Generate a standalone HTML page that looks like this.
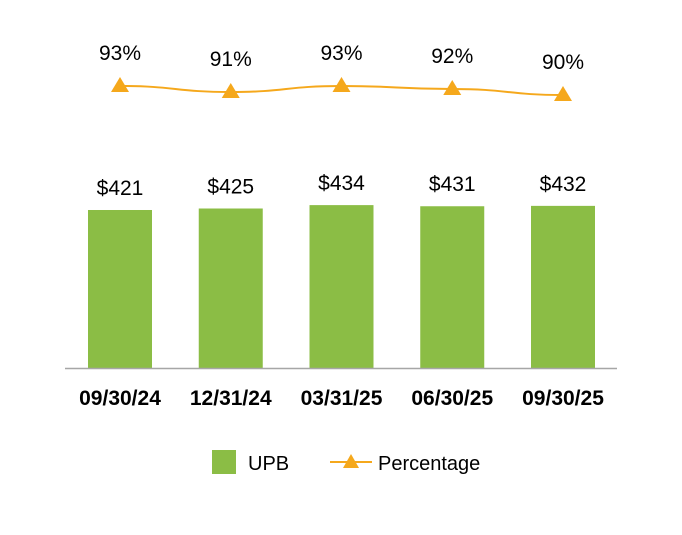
<!DOCTYPE html>
<html><head><meta charset="utf-8"><style>
body{margin:0;background:#fff}
svg text{font-family:"Liberation Sans Narrow","Liberation Sans",sans-serif}
</style></head><body>
<svg width="682" height="530" xmlns="http://www.w3.org/2000/svg">
<g id="bars"></g><g id="line"></g><g id="labels"></g>
<line x1="65" y1="368.5" x2="617" y2="368.5" stroke="#a6a6a6" stroke-width="1.5"/>
<g>
<rect x="212" y="450" width="24" height="24" fill="#8bbd45"/>
<text x="248" y="470" font-size="20" fill="#000">UPB</text>
<line x1="330" y1="462" x2="372" y2="462" stroke="#f5a81c" stroke-width="2"/>
<polygon points="351,454 359,468 343,468" fill="#f5a81c"/>
<text x="378" y="470" font-size="20" fill="#000">Percentage</text>
</g>
</svg>
<script>
const categories=["09/30/24","12/31/24","03/31/25","06/30/25","09/30/25"];
const upb=[421,425,434,431,432];
const pct=[93,91,93,92,90];
const NS="http://www.w3.org/2000/svg";
const xC=i=>120+i*110.75;
const yBar=v=>368-v*0.3753;
const yPct=v=>86+(93-v)*3;
function mk(t,a,p){const e=document.createElementNS(NS,t);for(const k in a)e.setAttribute(k,a[k]);p.appendChild(e);return e;}
const gb=document.getElementById('bars'),gl=document.getElementById('line'),gt=document.getElementById('labels');
upb.forEach((v,i)=>{
 const r=mk('rect',{x:xC(i)-32,y:yBar(v),width:64,height:368-yBar(v),fill:'#8bbd45'},gb);
 
 
 const t=mk('text',{x:xC(i),y:yBar(v)-15,'text-anchor':'middle','font-size':21,fill:'#000'},gt);
 t.textContent='$'+v;
 
 
 const c=mk('text',{x:xC(i),y:405,'text-anchor':'middle','font-size':21,'font-weight':'bold',fill:'#000'},gt);
 c.textContent=categories[i];
 
 
});
let d='';
pct.forEach((v,i)=>{
 const x=xC(i),y=yPct(v);
 if(i===0)d='M'+x+','+y;else{const px=xC(i-1),py=yPct(pct[i-1]),dx=(x-px)/2;d+=` C${px+dx},${py} ${x-dx},${y} ${x},${y}`;}
});
const p=mk('path',{d:d,fill:'none',stroke:'#f5a81c','stroke-width':2},gl);


pct.forEach((v,i)=>{
 const x=xC(i),y=yPct(v);
 const m=mk('polygon',{points:`${x},${y-9} ${x+9},${y+6} ${x-9},${y+6}`,fill:'#f5a81c'},gl);
 
 
 const t=mk('text',{x:x,y:y-26,'text-anchor':'middle','font-size':21,fill:'#000'},gt);
 t.textContent=v+'%';
 
 
});
</script>
</body></html>
